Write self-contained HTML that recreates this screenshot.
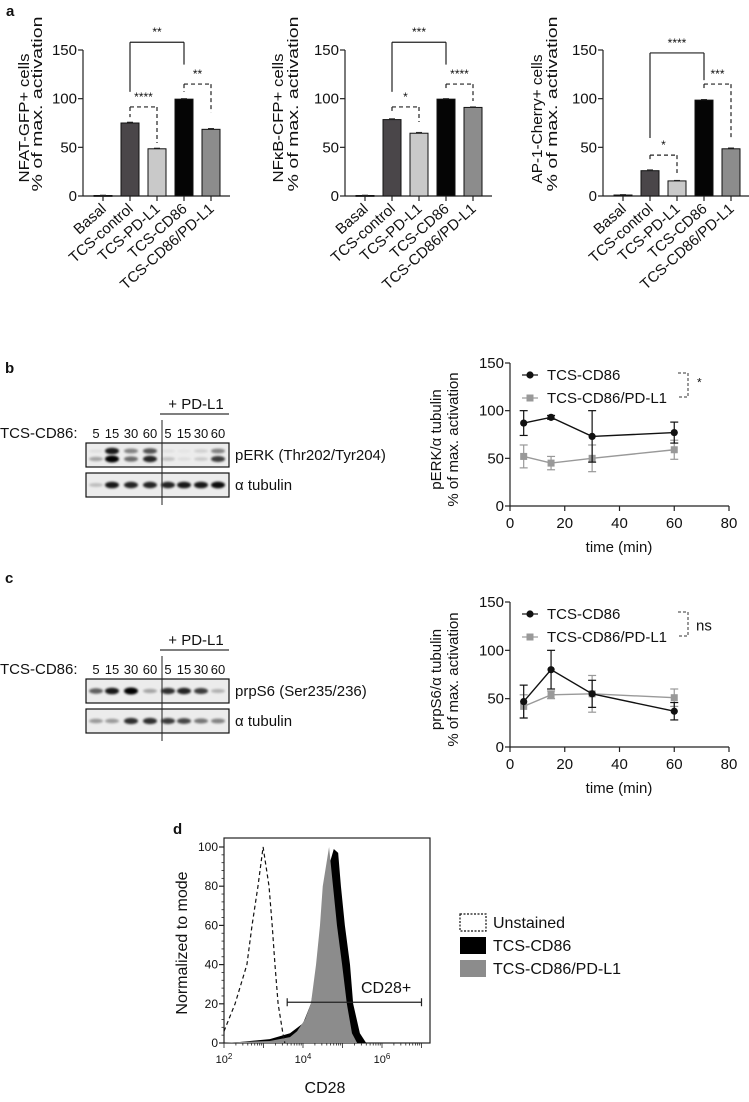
<!DOCTYPE html>
<html><head><meta charset="utf-8">
<style>
html,body{margin:0;padding:0;background:#fff;}
svg{display:block;font-family:"Liberation Sans",Arial,sans-serif;}
</style></head>
<body>
<svg id="fig" width="749" height="1102" viewBox="0 0 749 1102" xmlns="http://www.w3.org/2000/svg">
<defs><filter id="blur" x="-50%" y="-100%" width="200%" height="300%"><feGaussianBlur stdDeviation="1.1"/></filter></defs>
</svg>
<script>
// ---------- Panel a data ----------
const barCategories = ['Basal','TCS-control','TCS-PD-L1','TCS-CD86','TCS-CD86/PD-L1'];
const nfatValues = [0.5, 75, 48.5, 99.5, 68.5];
const nfatErrors = [0.3, 0.8, 0.6, 0.5, 0.8];
const nfkbValues = [0.5, 78.5, 64.5, 99.5, 91];
const nfkbErrors = [0.3, 0.8, 0.8, 0.5, 0.5];
const ap1Values = [1, 26, 15.5, 98.5, 48.5];
const ap1Errors = [0.4, 0.8, 0.5, 0.6, 0.8];
const barTicks = [0, 50, 100, 150];
// ---------- Panel b/c data ----------
const timePoints = [5, 15, 30, 60];
const timeTicks = [0, 20, 40, 60, 80];
const pctTicks = [0, 50, 100, 150];
const erkCD86 = [87, 93, 73, 77];
const erkCD86Err = [13, 2, 27, 11];
const erkPDL1 = [52, 45, 50, 59];
const erkPDL1Err = [12, 7, 14, 10];
const s6CD86 = [47, 80, 55, 37];
const s6CD86Err = [17, 20, 14, 9];
const s6PDL1 = [42, 54, 55, 51];
const s6PDL1Err = [12, 4, 19, 9];
const laneLabels = ['5','15','30','60','5','15','30','60'];
const erkUpper = [0.05, 0.9, 0.45, 0.65, 0.05, 0.03, 0.12, 0.45];
const erkLower = [0.3, 1.0, 0.55, 0.85, 0.18, 0.06, 0.15, 0.75];
const erkTub = [0.2, 0.9, 0.85, 0.85, 0.85, 0.9, 0.9, 0.95];
const s6Band = [0.6, 0.9, 1.0, 0.3, 0.8, 0.85, 0.75, 0.25];
const s6Tub = [0.35, 0.35, 0.8, 0.8, 0.75, 0.7, 0.5, 0.45];
// ---------- Panel d data (log10 CD28, % of mode) ----------
const unstainedLog = [2.0, 2.28, 2.58, 2.71, 2.86, 2.99, 3.14, 3.22, 3.29, 3.37, 3.49, 3.54];
const unstainedVal = [6, 20, 40, 60, 80, 100, 80, 60, 40, 20, 5, 0];
const cd86Log = [2.0, 2.4, 3.16, 3.67, 4.0, 4.2, 4.38, 4.53, 4.68, 4.78, 4.89, 4.96, 5.06, 5.19, 5.27, 5.44, 5.6];
const cd86Val = [0, 0.5, 2, 5, 10, 20, 40, 70, 92, 99, 97, 80, 60, 40, 20, 5, 0];
const pdl1Log = [2.0, 2.4, 3.16, 3.67, 3.85, 4.05, 4.2, 4.33, 4.43, 4.5, 4.66, 4.76, 4.86, 4.99, 5.11, 5.24, 5.37];
const pdl1Val = [0, 0.5, 1, 3, 6, 12, 20, 40, 60, 80, 100, 80, 60, 40, 20, 5, 0];
const histTicks = [0, 20, 40, 60, 80, 100];
const decadeTicks = [2, 4, 6];

const NS = 'http://www.w3.org/2000/svg';
const svg = document.getElementById('fig');
function mk(tag, attrs, name, parent) {
  const el = document.createElementNS(NS, tag);
  for (const k in attrs) el.setAttribute(k, attrs[k]);
  
  
  (parent || svg).appendChild(el);
  return el;
}
function txt(x, y, s, size, name, extra) {
  const a = {x: x, y: y, 'font-size': size, fill: '#111'};
  for (const k in (extra || {})) a[k] = extra[k];
  const el = mk('text', a, name);
  el.textContent = s;
  return el;
}
function line(x1, y1, x2, y2, name, extra) {
  const a = {x1: x1, y1: y1, x2: x2, y2: y2, stroke: '#222', 'stroke-width': 1.2};
  for (const k in (extra || {})) a[k] = extra[k];
  return mk('line', a, name);
}

// Panel letters
txt(6, 16, 'a', 15, 'panel-label-a', {'font-weight': 'bold'});
txt(5, 373, 'b', 15, 'panel-label-b', {'font-weight': 'bold'});
txt(5, 583, 'c', 15, 'panel-label-c', {'font-weight': 'bold'});
txt(173, 834, 'd', 15, 'panel-label-d', {'font-weight': 'bold'});

// ---------- Panel a ----------
const barColors = ['#aaa', '#4a4649', '#c9c9c9', '#050505', '#8c8c8c'];
function yA(v) { return 196 - v * 146 / 150; }
function drawBarChart(axisX, values, errors, labels, brackets, prefix, labelX) {
  const xB = i => axisX + 20 + i * 27;
  line(axisX, 50, axisX, 196, prefix + '-y-axis');
  line(axisX, 196, axisX + 147, 196, prefix + '-x-axis');
  barTicks.forEach(t => {
    line(axisX - 5, yA(t), axisX, yA(t), prefix + '-y-tick');
    txt(axisX - 6, yA(t) + 5, String(t), 15, prefix + '-y-tick-label', {'text-anchor': 'end'});
  });
  values.forEach((v, i) => {
    const h = Math.max(yA(0) - yA(v), 0.8);
    mk('rect', {x: xB(i) - 9, y: yA(v), width: 18, height: h, fill: barColors[i], stroke: '#111', 'stroke-width': 1}, prefix + '-bar-' + i);
    line(xB(i) - 3, yA(v + errors[i]), xB(i) + 3, yA(v + errors[i]), prefix + '-error-cap', {'stroke-width': 1});
    line(xB(i), 196, xB(i), 201, prefix + '-x-tick');
    const lx = xB(i) + 4, ly = 210;
    txt(lx, ly, barCategories[i], 15, prefix + '-x-label', {'text-anchor': 'end', transform: 'rotate(-42 ' + lx + ' ' + ly + ')'});
  });
  brackets.forEach(b => {
    const dash = b.dashed ? {'stroke-dasharray': '4 3'} : {};
    const x1 = xB(b.from), x2 = xB(b.to), yl = yA(b.level);
    line(x1, yl, x2, yl, prefix + '-significance-bracket', dash);
    line(x1, yl, x1, yA(b.left), prefix + '-significance-bracket', dash);
    line(x2, yl, x2, yA(b.right), prefix + '-significance-bracket', dash);
    txt((x1 + x2) / 2, yl - 6, b.label, 12, prefix + '-significance-stars', {'text-anchor': 'middle'});
  });
  txt(labelX[0], labelX[2], labels[0], 15, prefix + '-y-axis-title', {'text-anchor': 'middle', transform: 'rotate(-90 ' + labelX[0] + ' ' + labelX[2] + ')', textLength: 129, lengthAdjust: 'spacingAndGlyphs'});
  txt(labelX[1], labelX[3], labels[1], 15, prefix + '-y-axis-title', {'text-anchor': 'middle', transform: 'rotate(-90 ' + labelX[1] + ' ' + labelX[3] + ')', textLength: 175, lengthAdjust: 'spacingAndGlyphs'});
}
drawBarChart(83, nfatValues, nfatErrors, ['NFAT-GFP+ cells', '% of max. activation'], [
  {from: 1, to: 3, level: 158, left: 107, right: 135, label: '**', dashed: false},
  {from: 1, to: 2, level: 91.5, left: 81, right: 54.5, label: '****', dashed: true},
  {from: 3, to: 4, level: 115, left: 107, right: 86, label: '**', dashed: true}
], 'nfat', [29, 42, 118, 104]);
drawBarChart(345, nfkbValues, nfkbErrors, ['NFκB-CFP+ cells', '% of max. activation'], [
  {from: 1, to: 3, level: 158, left: 107, right: 135, label: '***', dashed: false},
  {from: 1, to: 2, level: 91.5, left: 85, right: 76, label: '*', dashed: true},
  {from: 3, to: 4, level: 115, left: 109, right: 97.6, label: '****', dashed: true}
], 'nfkb', [283, 298, 118, 104]);
drawBarChart(603, ap1Values, ap1Errors, ['AP-1-Cherry+ cells', '% of max. activation'], [
  {from: 1, to: 3, level: 147, left: 59.6, right: 119, label: '****', dashed: false},
  {from: 3, to: 4, level: 115, left: 109, right: 58.6, label: '***', dashed: true},
  {from: 1, to: 2, level: 42, left: 36, right: 23.6, label: '*', dashed: true}
], 'ap1', [542, 557, 119, 104]);

// ---------- Blots ----------
const laneX = [96, 112, 131, 150, 168, 184, 201, 218];
function drawBlot(dy, box1Bands, box2Bands, label1, prefix) {
  txt(196, 409 + dy, '+ PD-L1', 15, prefix + '-pdl1-header', {'text-anchor': 'middle'});
  line(160, 414 + dy, 229, 414 + dy, prefix + '-pdl1-underline', {'stroke-width': 1.5, stroke: '#555'});
  txt(0, 438 + dy, 'TCS-CD86:', 15, prefix + '-lane-title');
  laneLabels.forEach((s, i) => txt(laneX[i], 438 + dy, s, 13, prefix + '-lane-label', {'text-anchor': 'middle'}));
  const boxes = [[443, box1Bands], [473, box2Bands]];
  boxes.forEach((b, bi) => {
    mk('rect', {x: 86, y: b[0] + dy, width: 143, height: 24, fill: '#ececec', stroke: '#111', 'stroke-width': 1.2}, prefix + '-blot-box');
    b[1].forEach(band => {
      band.vals.forEach((v, i) => {
        mk('ellipse', {cx: laneX[i], cy: b[0] + dy + band.y, rx: 7, ry: 1.5 + v * 2, fill: '#000', opacity: v, filter: 'url(#blur)'}, prefix + '-band');
      });
    });
  });
  line(162, 420 + dy, 162, 505 + dy, prefix + '-lane-divider', {'stroke-width': 1});
  txt(235, 460 + dy, label1, 15, prefix + '-protein-label');
  txt(235, 490 + dy, 'α tubulin', 15, prefix + '-tubulin-label');
}
drawBlot(0, [{y: 8, vals: erkUpper}, {y: 16, vals: erkLower}], [{y: 12, vals: erkTub}], 'pERK (Thr202/Tyr204)', 'perk-blot');
drawBlot(236, [{y: 12, vals: s6Band}], [{y: 12, vals: s6Tub}], 'prpS6 (Ser235/236)', 'prps6-blot');

// ---------- Line charts ----------
function drawLineChart(y0, y150, s1, e1, s2, e2, sig, title, prefix) {
  const xT = t => 510 + t * 219 / 80;
  const yV = v => y0 - v * (y0 - y150) / 150;
  line(510, y150, 510, y0, prefix + '-y-axis');
  line(510, y0, 729, y0, prefix + '-x-axis');
  pctTicks.forEach(t => {
    line(505, yV(t), 510, yV(t), prefix + '-y-tick');
    txt(504, yV(t) + 5, String(t), 15, prefix + '-y-tick-label', {'text-anchor': 'end'});
  });
  timeTicks.forEach(t => {
    line(xT(t), y0, xT(t), y0 + 5, prefix + '-x-tick');
    txt(xT(t), y0 + 22, String(t), 15, prefix + '-x-tick-label', {'text-anchor': 'middle'});
  });
  txt(619, y0 + 46, 'time (min)', 15, prefix + '-x-axis-title', {'text-anchor': 'middle'});
  const cy = (y0 + y150) / 2 + 5;
  txt(441, cy, title, 15, prefix + '-y-axis-title', {'text-anchor': 'middle', transform: 'rotate(-90 441 ' + cy + ')'});
  txt(458, cy, '% of max. activation', 15, prefix + '-y-axis-title', {'text-anchor': 'middle', transform: 'rotate(-90 458 ' + cy + ')'});
  const series = [[s2, e2, '#999', 'square'], [s1, e1, '#111', 'circle']];
  series.forEach(s => {
    mk('polyline', {points: timePoints.map((t, i) => xT(t) + ',' + yV(s[0][i])).join(' '), fill: 'none', stroke: s[2], 'stroke-width': 1.4}, prefix + '-series-line');
    timePoints.forEach((t, i) => {
      const x = xT(t), v = s[0][i], e = s[1][i];
      line(x, yV(v - e), x, yV(v + e), prefix + '-error-bar', {stroke: s[2]});
      line(x - 4, yV(v + e), x + 4, yV(v + e), prefix + '-error-cap', {stroke: s[2]});
      line(x - 4, yV(v - e), x + 4, yV(v - e), prefix + '-error-cap', {stroke: s[2]});
      if (s[3] === 'circle') mk('circle', {cx: x, cy: yV(v), r: 3.6, fill: s[2]}, prefix + '-point');
      else mk('rect', {x: x - 3.5, y: yV(v) - 3.5, width: 7, height: 7, fill: s[2]}, prefix + '-point');
    });
  });
  const l1 = y150 + 12, l2 = y150 + 35;
  line(522, l1, 538, l1, prefix + '-legend-line', {stroke: '#111'});
  mk('circle', {cx: 530, cy: l1, r: 3.6, fill: '#111'}, prefix + '-legend-marker');
  txt(547, l1 + 5, 'TCS-CD86', 15, prefix + '-legend-label');
  line(522, l2, 538, l2, prefix + '-legend-line', {stroke: '#999'});
  mk('rect', {x: 526.5, y: l2 - 3.5, width: 7, height: 7, fill: '#999'}, prefix + '-legend-marker');
  txt(547, l2 + 5, 'TCS-CD86/PD-L1', 15, prefix + '-legend-label');
  mk('polyline', {points: '678,' + (l1 - 2) + ' 688,' + (l1 - 2) + ' 688,' + (l2 - 1) + ' 678,' + (l2 - 1), fill: 'none', stroke: '#333', 'stroke-width': 1, 'stroke-dasharray': '3 2'}, prefix + '-significance-bracket');
  txt(sig === '*' ? 697 : 696, (l1 + l2) / 2 + (sig === '*' ? 0 : 5), sig, sig === '*' ? 12 : 15, prefix + '-significance-label');
}
drawLineChart(506, 363, erkCD86, erkCD86Err, erkPDL1, erkPDL1Err, '*', 'pERK/α tubulin', 'perk-chart');
drawLineChart(747, 602, s6CD86, s6CD86Err, s6PDL1, s6PDL1Err, 'ns', 'prpS6/α tubulin', 'prps6-chart');

// ---------- Panel d ----------
const xL = l => 224 + (l - 2) * 39.5;
const yH = v => 1043 - v * 1.96;
mk('rect', {x: 224, y: 838, width: 206, height: 205, fill: 'none', stroke: '#222', 'stroke-width': 1.2}, 'histogram-plot-frame');
function areaPath(logs, vals) {
  return 'M' + xL(logs[0]) + ',' + yH(0) + ' ' + logs.map((l, i) => 'L' + xL(l) + ',' + yH(vals[i])).join(' ') + ' L' + xL(logs[logs.length - 1]) + ',' + yH(0) + ' Z';
}
mk('path', {d: areaPath(cd86Log, cd86Val), fill: '#000'}, 'histogram-tcs-cd86');
mk('path', {d: areaPath(pdl1Log, pdl1Val), fill: '#8c8c8c'}, 'histogram-tcs-cd86-pdl1');
mk('polyline', {points: unstainedLog.map((l, i) => xL(l) + ',' + yH(unstainedVal[i])).join(' '), fill: 'none', stroke: '#111', 'stroke-width': 1.2, 'stroke-dasharray': '4 3'}, 'histogram-unstained');
histTicks.forEach(t => {
  line(219, yH(t), 224, yH(t), 'histogram-y-tick');
  txt(218, yH(t) + 4, String(t), 12, 'histogram-y-tick-label', {'text-anchor': 'end'});
});
for (let v = 4; v < 100; v += 4) { if (v % 20) line(221.5, yH(v), 224, yH(v), 'histogram-y-minor-tick', {'stroke-width': 0.8}); }
for (let d = 2; d < 7.2; d++) {
  for (let m = 1; m < 10; m++) {
    const l = d + Math.log10(m);
    if (l > 7.2) break;
    const major = (m === 1 && decadeTicks.indexOf(d) >= 0);
    line(xL(l), 1043, xL(l), 1043 + (m === 1 ? 5 : 2.5), major ? 'histogram-x-tick' : 'histogram-x-minor-tick', {'stroke-width': 0.8});
  }
}
decadeTicks.forEach(d => {
  const t = txt(xL(d), 1063, '10', 11, 'histogram-x-tick-label', {'text-anchor': 'middle'});
  const sup = document.createElementNS(NS, 'tspan');
  sup.setAttribute('dy', '-4');
  sup.setAttribute('font-size', '8');
  sup.textContent = String(d);
  t.appendChild(sup);
});
line(xL(3.6), yH(20.8), xL(7), yH(20.8), 'cd28-gate-line');
line(xL(3.6), yH(20.8) - 4, xL(3.6), yH(20.8) + 4, 'cd28-gate-end');
line(xL(7), yH(20.8) - 4, xL(7), yH(20.8) + 4, 'cd28-gate-end');
txt(361, 993, 'CD28+', 16, 'cd28-gate-label');
txt(187, 943, 'Normalized to mode', 16, 'histogram-y-axis-title', {'text-anchor': 'middle', transform: 'rotate(-90 187 943)'});
txt(325, 1093, 'CD28', 16, 'histogram-x-axis-title', {'text-anchor': 'middle'});
mk('rect', {x: 460, y: 914, width: 26, height: 17, fill: '#fff', stroke: '#111', 'stroke-width': 1.2, 'stroke-dasharray': '2 1.5'}, 'legend-swatch-unstained');
txt(493, 928, 'Unstained', 16, 'legend-label-unstained');
mk('rect', {x: 460, y: 937, width: 26, height: 17, fill: '#000'}, 'legend-swatch-tcs-cd86');
txt(493, 951, 'TCS-CD86', 16, 'legend-label-tcs-cd86');
mk('rect', {x: 460, y: 960, width: 26, height: 17, fill: '#8c8c8c'}, 'legend-swatch-tcs-cd86-pdl1');
txt(493, 974, 'TCS-CD86/PD-L1', 16, 'legend-label-tcs-cd86-pdl1');
</script>
</body></html>
